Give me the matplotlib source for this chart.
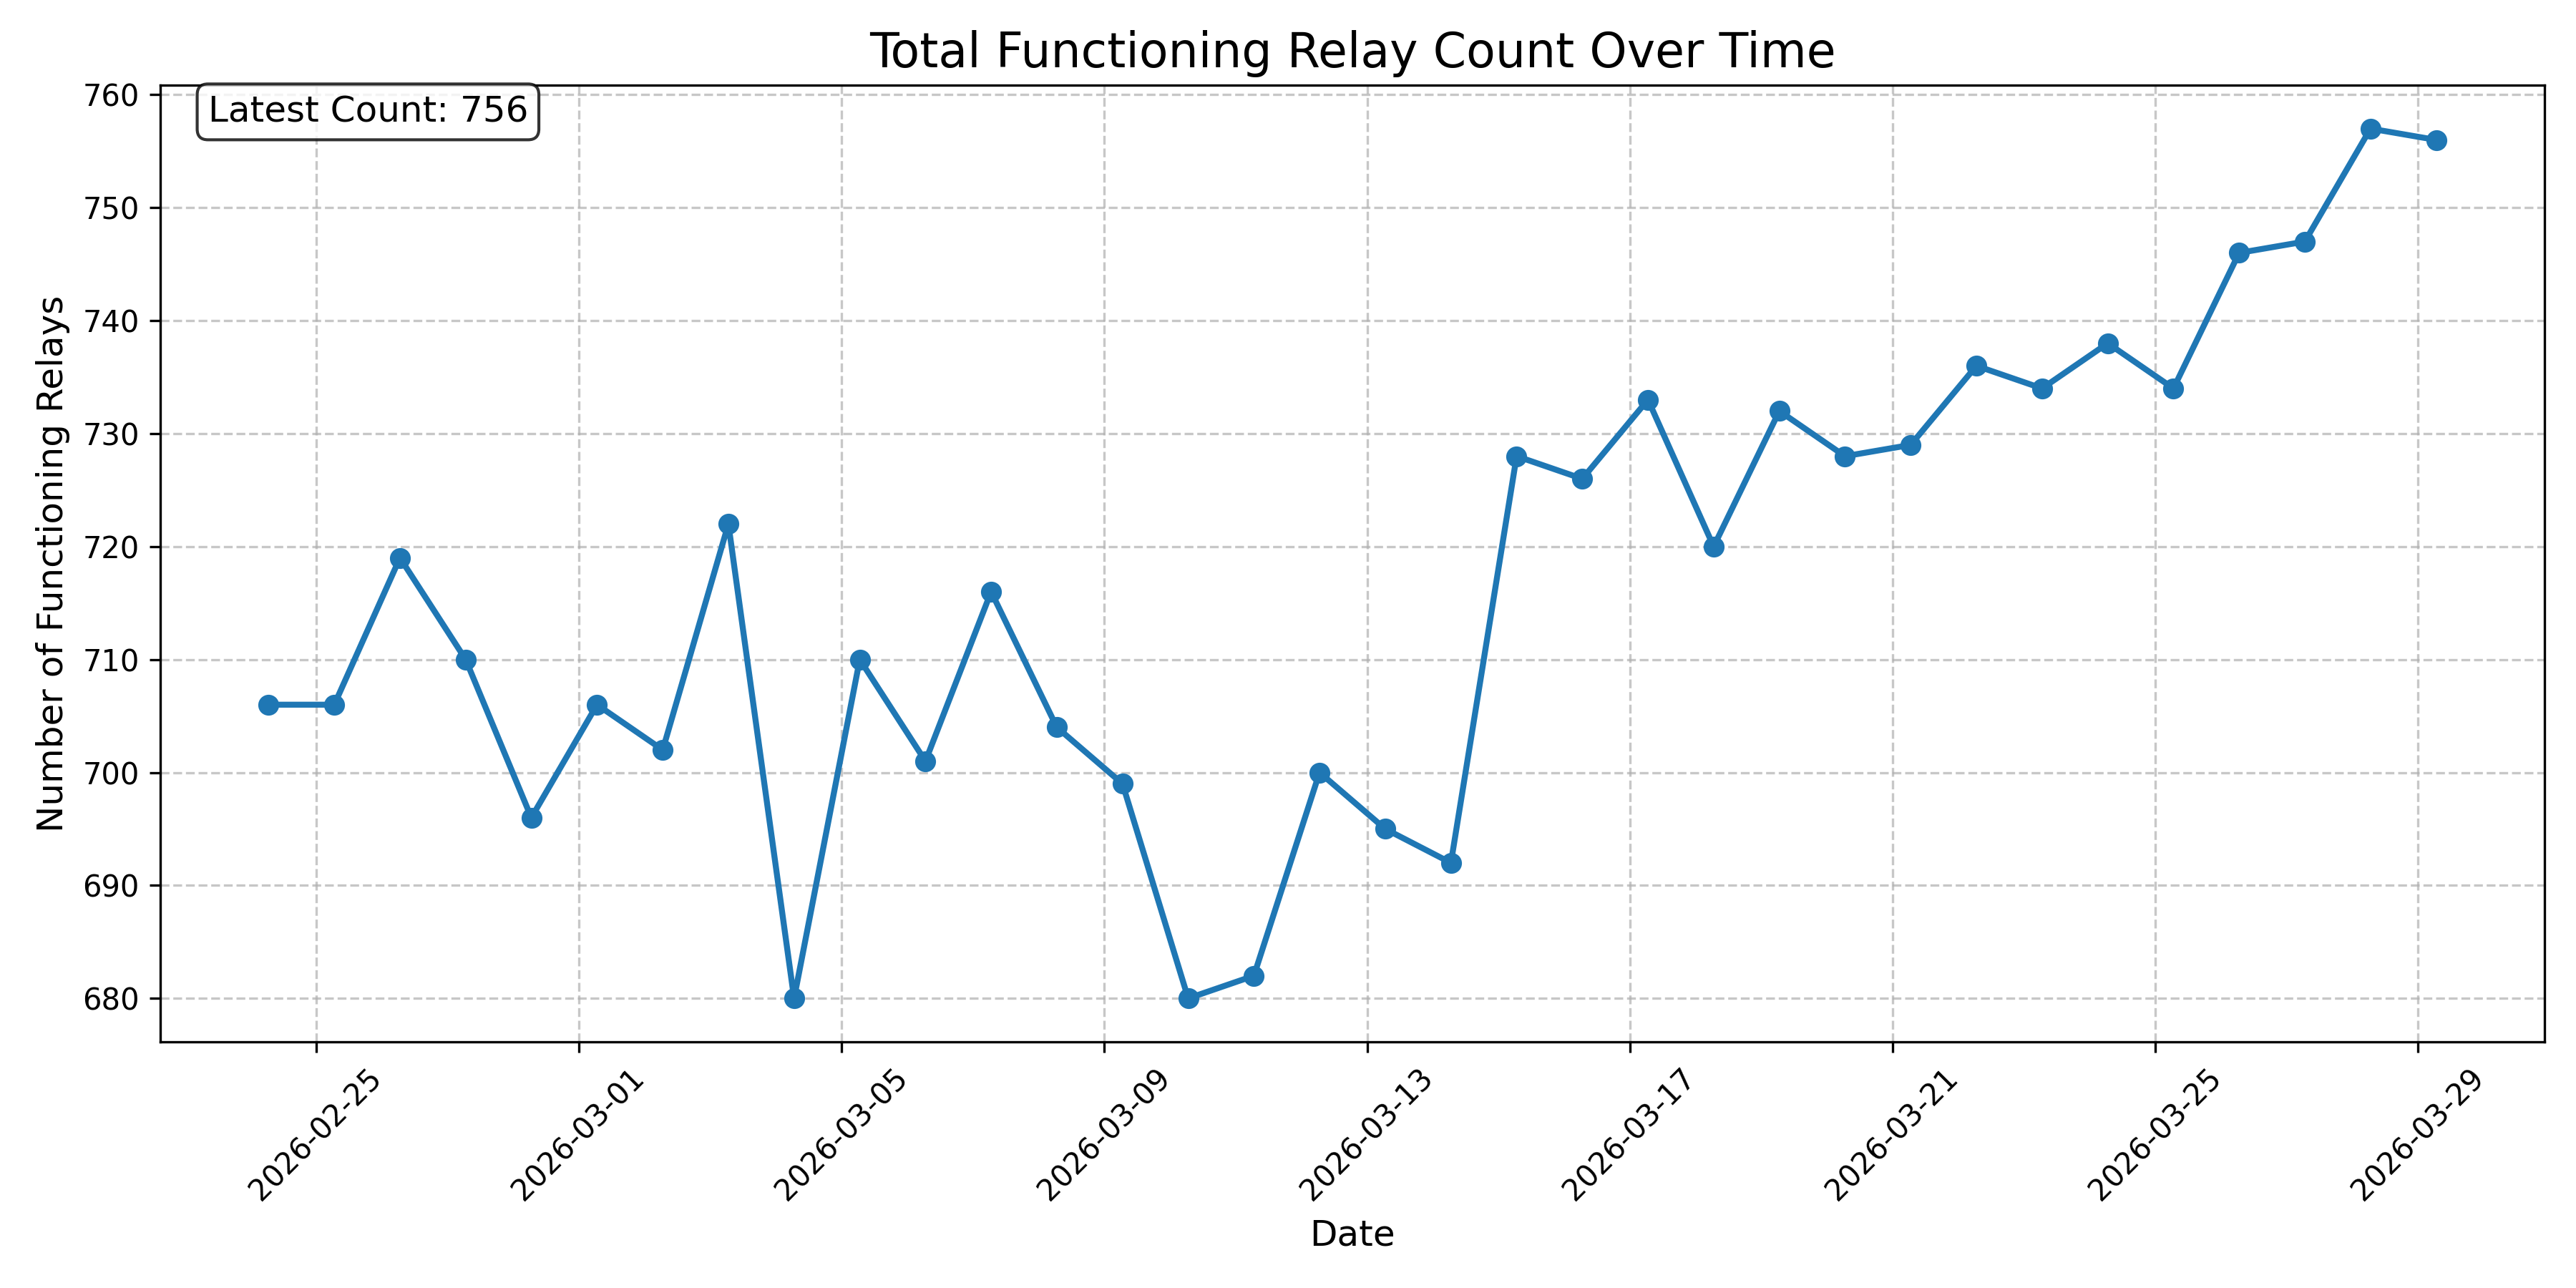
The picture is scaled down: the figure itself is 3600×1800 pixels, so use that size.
import numpy as np
import pandas as pd
import matplotlib
matplotlib.use("Agg")
from matplotlib import pyplot as plt
import matplotlib.dates as mdates

# daily relay counts
dates = pd.date_range("2026-02-24 06:36", periods=34, freq="D")
counts = [706, 706, 719, 710, 696, 706, 702, 722, 680, 710,
          701, 716, 704, 699, 680, 682, 700, 695, 692, 728,
          726, 733, 720, 732, 728, 729, 736, 734, 738, 734,
          746, 747, 757, 756]

fig, ax = plt.subplots(figsize=(12, 6), dpi=300)

ax.plot(dates, counts, marker='o', linestyle='-', linewidth=2, markersize=6, color='#1f77b4')

ax.set_title("Total Functioning Relay Count Over Time", fontsize=16)
ax.set_xlabel("Date", fontsize=12)
ax.set_ylabel("Number of Functioning Relays", fontsize=12)
ax.grid(True, linestyle='--', alpha=0.7)

ax.xaxis.set_major_locator(mdates.DayLocator(bymonthday=[1, 5, 9, 13, 17, 21, 25, 29]))
ax.xaxis.set_major_formatter(mdates.DateFormatter("%Y-%m-%d"))
plt.xticks(rotation=45)

ax.text(0.02, 0.99, f"Latest Count: {counts[-1]}", transform=ax.transAxes,
        fontsize=12, va='top',
        bbox=dict(boxstyle='round', facecolor='white', alpha=0.8))

# margins matched to the reference
plt.subplots_adjust(left=0.0622, right=0.9878, top=0.9339, bottom=0.1911)
plt.savefig("out.png", dpi=300)
